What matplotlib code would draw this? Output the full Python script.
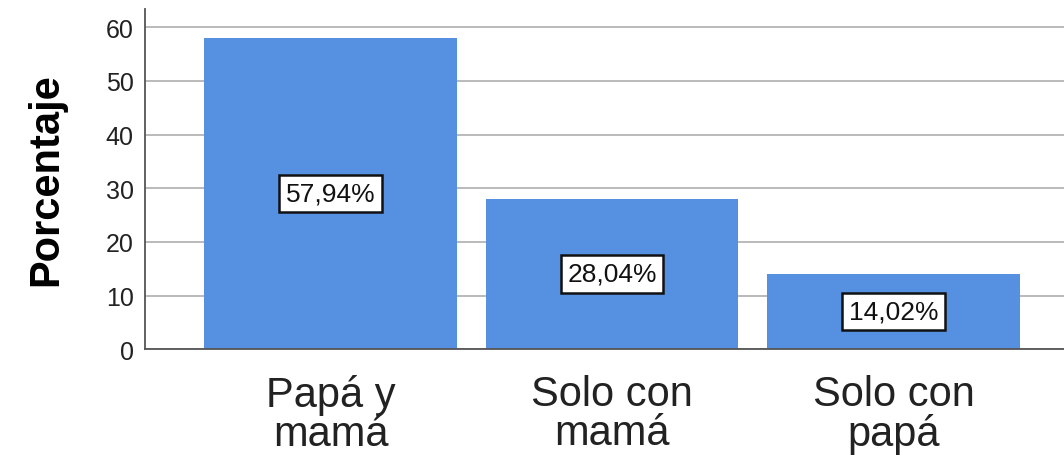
import matplotlib.pyplot as plt
import numpy as np

categories = ["Papá y\nmamá", "Solo con\nmamá", "Solo con\npapá"]
percent = [57.94, 28.04, 14.02]
labels = ["57,94%", "28,04%", "14,02%"]
yticks = [0, 10, 20, 30, 40, 50, 60]

plt.rcParams['font.family'] = ['Liberation Sans', 'DejaVu Sans']

fig = plt.figure(figsize=(10.64, 4.56), dpi=100)
ax = fig.add_axes([0.136, 0.232, 0.864, 0.746])

x = np.arange(len(categories))
bars = ax.bar(x, percent, width=0.897, color='#5591E0', zorder=2)

# value labels in boxes at mid-height of each bar
for xi, val, lab in zip(x, percent, labels):
    ax.text(xi, val / 2, lab, ha='center', va='center', fontsize=19, zorder=3,
            color='#111111',
            bbox=dict(boxstyle='square,pad=0.25', facecolor='white',
                      edgecolor='#111111', linewidth=1.8))

ax.set_xlim(-0.66, 2.605)
ax.set_ylim(0, 63.4)
ax.set_yticks(yticks)
ax.set_xticks(x)
ax.set_xticklabels(categories, fontsize=30, linespacing=0.95)
ax.tick_params(axis='y', labelsize=18, length=0, pad=8, colors='#222222')
ax.tick_params(axis='x', length=0, pad=18, colors='#222222')
ax.set_ylabel("Porcentaje", fontsize=30, fontweight='bold', labelpad=28)

ax.yaxis.grid(True, color='#b4b4b4', linewidth=1.3, zorder=0)
ax.set_axisbelow(True)
for s in ['top', 'right']:
    ax.spines[s].set_visible(False)
for s in ['left', 'bottom']:
    ax.spines[s].set_color('#555555')
    ax.spines[s].set_linewidth(1.3)

fig.savefig("out.png", dpi=100)
